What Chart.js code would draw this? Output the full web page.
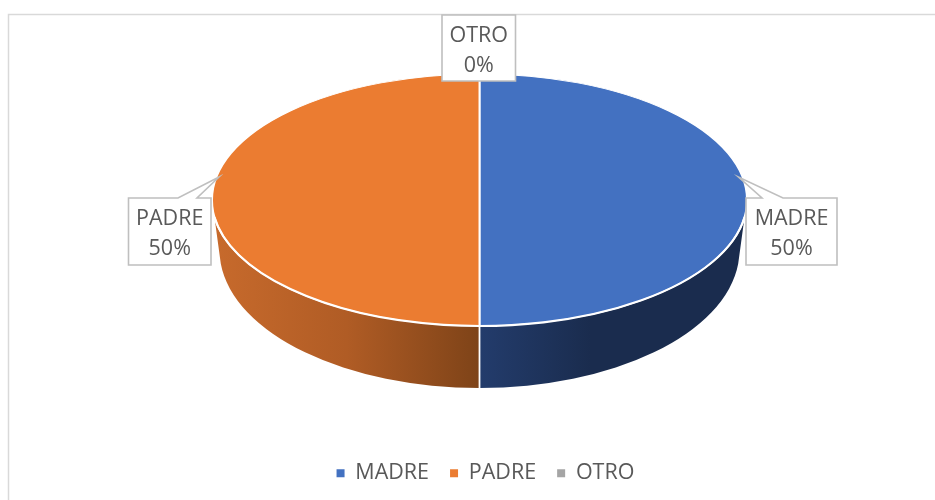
<!DOCTYPE html>
<html lang="es">
<head>
<meta charset="utf-8">
<style>
html,body{margin:0;padding:0;background:#fff;overflow:hidden}
#wrap{position:relative;width:935px;height:500px}
</style>
<script src="https://cdn.jsdelivr.net/npm/chart.js@4/dist/chart.umd.min.js"></script>
</head>
<body>
<div id="wrap"><canvas id="c" width="935" height="500"></canvas></div>
<script>
const categories = ['MADRE', 'PADRE', 'OTRO'];
const values = [50, 50, 0];
const topColors = ['#4371c1', '#eb7c31', '#a5a5a5'];
const wallStops = [
  [[0, '#233c6c'], [0.42, '#1a2c4e'], [1, '#1a2c4e']],
  [[0, '#c76a2c'], [0.5, '#b05c25'], [1, '#7e4318']],
  [[0, '#7a7a7a'], [1, '#555555']]
];

const FONT = '"Open Sans", "Noto Sans", sans-serif';
const TARGET = {x: 479.5, y: 200, rx: 267.5, ry: 126, bottomRx: 260, bottomRy: 138, bottomY: 250};
const FRONT_TOP = 0.135, FRONT_BOTTOM = 0.1;

const calloutBoxes = [
  {l: 746, r: 837, t: 198, b: 265, ptr: [[762, 198], [738.5, 177], [783, 198]]},
  {l: 128.5, r: 211, t: 198, b: 265, ptr: [[178, 198], [219, 177], [197, 198]]},
  {l: 442, r: 515.5, t: 15, b: 81, ptr: null}
];

const pie3d = {
  id: 'pie3d',
  beforeDraw(chart) {
    const c = chart.ctx;
    c.save();
    c.strokeStyle = '#d9d9d9';
    c.lineWidth = 1.5;
    c.strokeRect(8.5, 14.5, 1000, 600);
    c.restore();
  },
  beforeDatasetsDraw(chart) {
    const c = chart.ctx;
    const arcs = chart.getDatasetMeta(0).data;
    const T = TARGET;
    const bottomAngle = a => a <= FRONT_TOP ? FRONT_BOTTOM : a >= Math.PI - FRONT_TOP ? Math.PI - FRONT_BOTTOM : a;
    arcs.forEach((arc, i) => {
      const a0 = Math.max(arc.startAngle, FRONT_TOP);
      const a1 = Math.min(arc.endAngle, Math.PI - FRONT_TOP);
      if (a1 <= a0) return;
      const g = c.createLinearGradient(T.x + T.rx * Math.cos(a1), 0, T.x + T.rx * Math.cos(a0), 0);
      wallStops[i].forEach(([p, col]) => g.addColorStop(p, col));
      c.beginPath();
      c.ellipse(T.x, T.y, T.rx, T.ry, 0, a0, a1, false);
      c.ellipse(T.x, T.bottomY, T.bottomRx, T.bottomRy, 0, bottomAngle(a1), bottomAngle(a0), true);
      c.closePath();
      c.fillStyle = g;
      c.fill();
    });
    // seams between slices on the wall
    c.save();
    c.strokeStyle = '#ffffff';
    c.lineWidth = 1.8;
    arcs.forEach(arc => {
      const a = arc.endAngle;
      if (a > FRONT_TOP && a < Math.PI - FRONT_TOP) {
        c.beginPath();
        c.moveTo(T.x + T.rx * Math.cos(a), T.y + T.ry * Math.sin(a));
        c.lineTo(T.x + T.bottomRx * Math.cos(a), T.bottomY + T.bottomRy * Math.sin(a));
        c.stroke();
      }
    });
    c.restore();
    // flatten the library's arcs into the tilted top face
    const a = arcs[0];
    c.save();
    c.translate(T.x, T.y);
    c.scale(T.rx / a.outerRadius, T.ry / a.outerRadius);
    c.translate(-a.x, -a.y);
  },
  afterDatasetsDraw(chart) {
    const c = chart.ctx;
    c.restore();
    const T = TARGET;
    // white rim along the front of the top face
    c.save();
    c.strokeStyle = '#ffffff';
    c.lineWidth = 2.2;
    c.beginPath();
    c.ellipse(T.x, T.y, T.rx, T.ry, 0, FRONT_TOP, Math.PI - FRONT_TOP, false);
    c.stroke();
    c.restore();
    // callout labels
    const total = values.reduce((s, v) => s + v, 0);
    categories.forEach((name, i) => {
      const b = calloutBoxes[i];
      c.save();
      c.beginPath();
      c.moveTo(b.l, b.t);
      if (b.ptr) b.ptr.forEach(p => c.lineTo(p[0], p[1]));
      c.lineTo(b.r, b.t);
      c.lineTo(b.r, b.b);
      c.lineTo(b.l, b.b);
      c.closePath();
      c.fillStyle = '#ffffff';
      c.fill();
      c.strokeStyle = '#bfbfbf';
      c.lineWidth = 1.6;
      c.stroke();
      c.fillStyle = '#595959';
      c.font = '21.5px ' + FONT;
      c.textAlign = 'center';
      c.textBaseline = 'middle';
      const mx = (b.l + b.r) / 2;
      c.fillText(name, mx, b.t + 20.5);
      c.fillText(Math.round(values[i] / total * 100) + '%', mx, b.t + 51);
      c.restore();
    });
  }
};

new Chart(document.getElementById('c'), {
  type: 'pie',
  data: {
    labels: categories,
    datasets: [{
      data: values,
      backgroundColor: topColors,
      borderColor: '#ffffff',
      borderWidth: 1.6,
      radius: 220,
      clip: false
    }]
  },
  plugins: [pie3d],
  options: {
    responsive: false,
    animation: false,
    layout: {padding: {left: 36, right: 0, top: 0, bottom: 6}},
    plugins: {
      tooltip: {enabled: false},
      legend: {
        position: 'bottom',
        labels: {
          boxWidth: 8,
          boxHeight: 8,
          padding: 21,
          color: '#595959',
          font: {family: FONT, size: 21.5},
          generateLabels: chart =>
            Chart.overrides.pie.plugins.legend.labels.generateLabels(chart)
              .map(item => ({...item, lineWidth: 0}))
        }
      }
    }
  }
});
</script>
</body>
</html>
